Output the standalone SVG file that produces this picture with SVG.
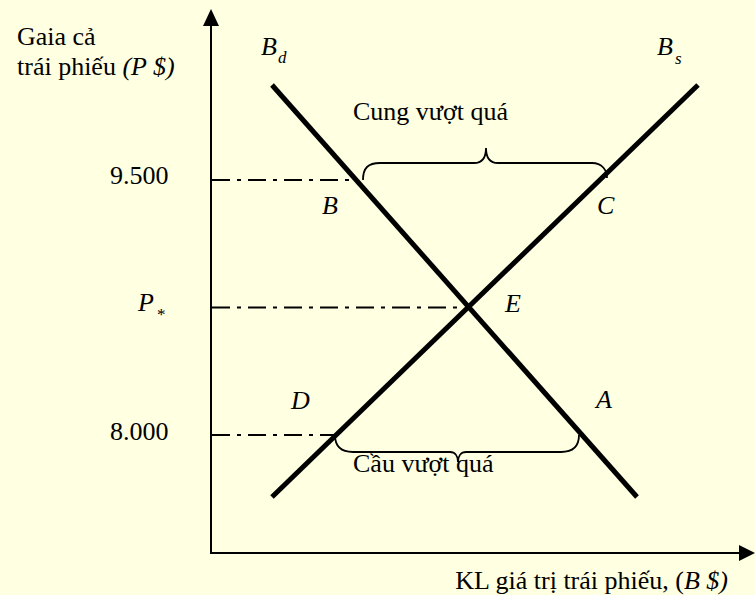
<svg xmlns="http://www.w3.org/2000/svg" width="755" height="595" viewBox="0 0 755 595">
<style>
text{font-family:"Liberation Serif","Times New Roman",serif;font-size:26px;fill:#000}
.it{font-style:italic}
.sub{font-size:17px;font-style:italic}
.curve{stroke:#000;stroke-width:5;fill:none}
.axis{stroke:#000;stroke-width:2;fill:none}
.guide{stroke:#000;stroke-width:2;fill:none;stroke-dasharray:18 7 4 7}
.brace{stroke:#000;stroke-width:1.8;fill:none}
</style>
<rect width="755" height="595" fill="#FFFFE1"/>
<g id="axes">
<line class="axis" x1="211" y1="553" x2="211" y2="12"/>
<path d="M203,26 L211,9 L219,26 Z" fill="#000"/>
<line class="axis" x1="210" y1="553" x2="740" y2="553"/>
<path d="M739,545 L755,553 L739,561 Z" fill="#000"/>
</g>
<g id="connectors">
<line class="guide" x1="212" y1="180" x2="350" y2="180"/>
<line class="guide" x1="212" y1="307.5" x2="464" y2="307.5"/>
<line class="guide" x1="212" y1="435" x2="334" y2="435"/>
</g>
<g id="demand-curve">
<line class="curve" x1="272" y1="85" x2="637" y2="497"/>
</g>
<g id="supply-curve">
<line class="curve" x1="272" y1="497" x2="698" y2="85"/>
</g>
<g id="surplus-brace">
<path class="brace" d="M363,180 C363,168 368,163 380,163 L474,163 C482,163 486,158 486,148 C486,158 490,163 498,163 L592,163 C602,163 607,170 607,178"/>
<text x="353" y="120">Cung vượt quá</text>
</g>
<g id="shortage-brace">
<path class="brace" d="M335,435 C335,447 342,452 353,452 L450,452 C455,452 458,456 458,462 C458,456 461,452 466,452 L561,452 C572,452 579,447 579,435"/>
<text x="353" y="472">Cầu vượt quá</text>
</g>
<g id="labels">
<text x="17" y="45">Gaia cả</text>
<text x="17" y="75">trái phiếu <tspan class="it">(P $)</tspan></text>
<text class="it" x="261" y="55">B</text><text class="sub" x="278" y="63">d</text>
<text class="it" x="657" y="55">B</text><text class="sub" x="675" y="64">s</text>
<text x="110" y="184">9.500</text>
<text class="it" x="138" y="311">P</text><text class="sub" x="157" y="320" style="font-style:normal">*</text>
<text x="110" y="440">8.000</text>
<text class="it" x="322" y="214">B</text>
<text class="it" x="597" y="214">C</text>
<text class="it" x="505" y="312">E</text>
<text class="it" x="291" y="409">D</text>
<text class="it" x="596" y="408">A</text>
<text x="728" y="589" text-anchor="end">KL giá trị trái phiếu, (<tspan class="it">B $)</tspan></text>
</g>
</svg>
